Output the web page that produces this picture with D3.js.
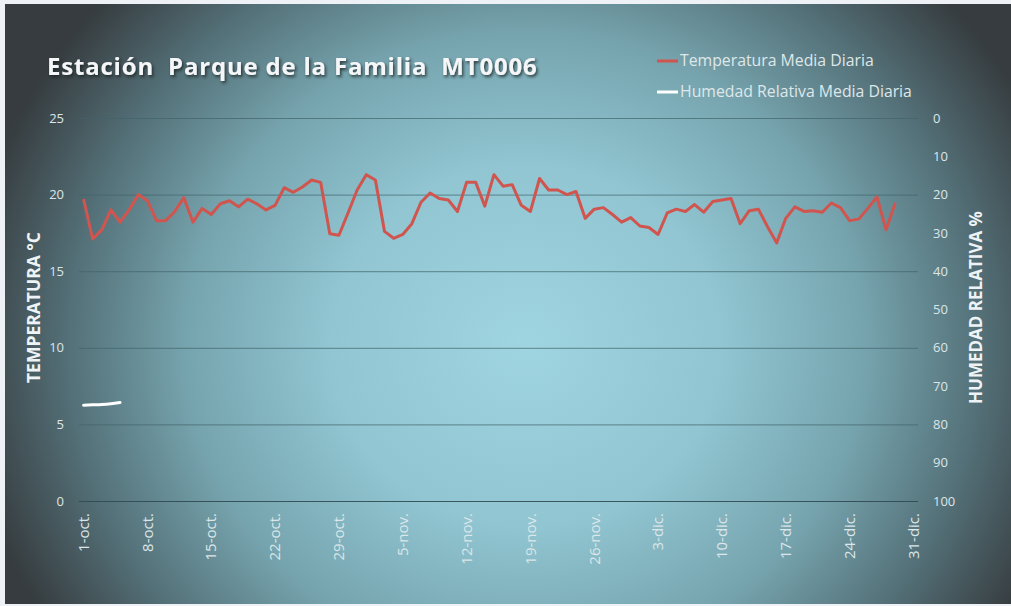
<!DOCTYPE html>
<html>
<head>
<meta charset="utf-8">
<script src="https://cdn.jsdelivr.net/npm/d3@7"></script>
<style>
	body { margin: 0; background: #eef1f5; }
	#chart { width: 1011px; height: 606px; }
</style>
</head>
<body>
<div id="chart"></div>
<script>
// datos diarios desde el 1-oct.
var startDate = new Date(2016, 9, 1);
var endDate = new Date(2016, 11, 31);

var temperatura = [
	19.7, 17.1, 17.7, 19.0, 18.2, 19.0, 20.0, 19.6, 18.3, 18.3,
	18.9, 19.8, 18.2, 19.1, 18.7, 19.4, 19.6, 19.2, 19.7, 19.4,
	19.0, 19.3, 20.45, 20.15, 20.5, 20.95, 20.8, 17.45, 17.35, 18.8,
	20.3, 21.3, 20.95, 17.6, 17.15, 17.4, 18.1, 19.5, 20.1, 19.75,
	19.65, 18.9, 20.8, 20.8, 19.25, 21.3, 20.55, 20.65, 19.3, 18.9,
	21.05, 20.3, 20.3, 20.0, 20.2, 18.45, 19.05, 19.15, 18.7, 18.2,
	18.5, 17.95, 17.85, 17.4, 18.8, 19.05, 18.9, 19.35, 18.85, 19.55,
	19.65, 19.75, 18.1, 18.95, 19.05, 17.9, 16.85, 18.45, 19.2, 18.9,
	18.95, 18.85, 19.45, 19.15, 18.3, 18.4, 19.1, 19.85, 17.7, 19.45
];

var humedad = [75.0, 74.9, 74.8, 74.6, 74.3];

var tempTicks = [0, 5, 10, 15, 20, 25];
var humTicks = [0, 10, 20, 30, 40, 50, 60, 70, 80, 90, 100];

var titulo = "Estación  Parque de la Familia  MT0006";
var serie1 = "Temperatura Media Diaria";
var serie2 = "Humedad Relativa Media Diaria";

function chart() {
	var width = 1011, height = 606;
	var margin = {top: 118, right: 93, bottom: 105, left: 79};
	var w = width - margin.left - margin.right,
		h = height - margin.top - margin.bottom;

	var es = d3.timeFormatLocale({
		dateTime: "%A, %e de %B de %Y, %X", date: "%d/%m/%Y", time: "%H:%M:%S",
		periods: ["AM", "PM"],
		days: ["domingo", "lunes", "martes", "miércoles", "jueves", "viernes", "sábado"],
		shortDays: ["dom", "lun", "mar", "mié", "jue", "vie", "sáb"],
		months: ["enero", "febrero", "marzo", "abril", "mayo", "junio", "julio", "agosto", "septiembre", "octubre", "noviembre", "diciembre"],
		shortMonths: ["ene.", "feb.", "mar.", "abr.", "may.", "jun.", "jul.", "ago.", "sept.", "oct.", "nov.", "dic."]
	});
	var fmt = es.format("%-d-%b");

	var days = d3.timeDay.range(startDate, d3.timeDay.offset(endDate, 1));

	var svg = d3.select("#chart").append("svg")
		.attr("width", width)
		.attr("height", height)
		.style("font-family", "'Open Sans', sans-serif");

	var defs = svg.append("defs");
	var grad = defs.append("radialGradient")
		.attr("id", "bg")
		.attr("gradientUnits", "userSpaceOnUse")
		.attr("cx", 525).attr("cy", 345).attr("r", 565)
		.attr("gradientTransform", "translate(525,345) scale(1,0.92) translate(-525,-345)");
	grad.append("stop").attr("offset", 0).attr("stop-color", "#9fd4e1");
	grad.append("stop").attr("offset", 0.35).attr("stop-color", "#90c5d1");
	grad.append("stop").attr("offset", 0.6).attr("stop-color", "#76a4ae");
	grad.append("stop").attr("offset", 0.8).attr("stop-color", "#55727a");
	grad.append("stop").attr("offset", 1).attr("stop-color", "#363c3f");

	var shadow = defs.append("filter").attr("id", "sombra")
		.attr("x", -0.1).attr("y", -0.3).attr("width", 1.2).attr("height", 1.6);
	shadow.append("feDropShadow")
		.attr("dx", 1.5).attr("dy", 2).attr("stdDeviation", 1.5)
		.attr("flood-color", "#1c2224").attr("flood-opacity", 0.8);

	svg.append("rect")
		.attr("x", 5).attr("y", 4)
		.attr("width", width - 5).attr("height", height - 6)
		.attr("fill", "url(#bg)");

	var xScale = d3.scaleBand()
		.domain(days)
		.range([margin.left, margin.left + w]);

	var yTemp = d3.scaleLinear()
		.domain([0, 25])
		.range([margin.top + h, margin.top]);

	var yHum = d3.scaleLinear()
		.domain([0, 100])
		.range([margin.top, margin.top + h]);

	// lineas de la grilla
	svg.append("g").selectAll("line")
		.data(tempTicks)
		.enter().append("line")
		.attr("x1", margin.left).attr("x2", margin.left + w)
		.attr("y1", function(d) { return yTemp(d) + 0.5; })
		.attr("y2", function(d) { return yTemp(d) + 0.5; })
		.attr("stroke", function(d) { return d == 0 ? "#2f4a52" : "#41626a"; })
		.attr("stroke-opacity", function(d) { return d == 0 ? 0.9 : 0.7; })
		.attr("stroke-width", 1);

	var yaxisL = d3.axisLeft(yTemp).tickValues(tempTicks).tickSize(0).tickPadding(15);
	var yaxisR = d3.axisRight(yHum).tickValues(humTicks).tickSize(0).tickPadding(15);

	var gL = svg.append("g")
		.attr("transform", "translate(" + margin.left + ",0)")
		.call(yaxisL);
	var gR = svg.append("g")
		.attr("transform", "translate(" + (margin.left + w) + ",0)")
		.call(yaxisR);
	[gL, gR].forEach(function(g) {
		g.select(".domain").remove();
		g.selectAll("text")
			.attr("fill", "#dbe6ea")
			.attr("font-size", 13)
			.attr("font-family", "'Open Sans', sans-serif");
	});

	var xaxis = d3.axisBottom(xScale)
		.tickValues(days.filter(function(d, i) { return i % 7 == 0; }))
		.tickFormat(fmt)
		.tickSize(0);

	var gX = svg.append("g")
		.attr("transform", "translate(0," + (margin.top + h) + ")")
		.call(xaxis);
	gX.select(".domain").remove();
	gX.selectAll("text")
		.attr("transform", "rotate(-90)")
		.attr("x", -12)
		.attr("y", 0)
		.attr("dy", "0.35em")
		.style("text-anchor", "end")
		.attr("fill", "#dbe6ea")
		.attr("font-size", 15)
		.attr("font-family", "'Open Sans', sans-serif");

	var lineT = d3.line()
		.x(function(d, i) { return xScale(days[i]) + xScale.bandwidth() / 2; })
		.y(function(d) { return yTemp(d); });

	var lineH = d3.line()
		.x(function(d, i) { return xScale(days[i]) + xScale.bandwidth() / 2; })
		.y(function(d) { return yHum(d); })
		.curve(d3.curveMonotoneX);

	svg.append("path")
		.datum(temperatura)
		.attr("d", lineT)
		.attr("fill", "none")
		.attr("stroke", "#d1554f")
		.attr("stroke-width", 3)
		.attr("stroke-linejoin", "round");

	svg.append("path")
		.datum(humedad)
		.attr("d", lineH)
		.attr("fill", "none")
		.attr("stroke", "#ffffff")
		.attr("stroke-width", 3)
		.attr("stroke-linecap", "round");

	// titulos
	svg.append("text")
		.attr("x", 47).attr("y", 75)
		.style("white-space", "pre")
		.attr("font-size", 24)
		.attr("font-weight", "bold")
		.attr("letter-spacing", 0.8)
		.attr("fill", "#f4f6f7")
		.attr("filter", "url(#sombra)")
		.text(titulo);

	svg.append("text")
		.attr("transform", "translate(40," + (margin.top + h / 2 - 2) + ") rotate(-90)")
		.style("text-anchor", "middle")
		.attr("font-size", 17.5)
		.attr("font-weight", "bold")
		.attr("fill", "#eef3f5")
		.text("TEMPERATURA °C");

	svg.append("text")
		.attr("transform", "translate(982," + (margin.top + h / 2 - 2) + ") rotate(-90)")
		.style("text-anchor", "middle")
		.attr("font-size", 17)
		.attr("font-weight", "bold")
		.attr("fill", "#eef3f5")
		.text("HUMEDAD RELATIVA %");

	// leyenda
	var legend = [
		{name: serie1, color: "#d1554f", y: 61},
		{name: serie2, color: "#ffffff", y: 92}
	];
	var lg = svg.append("g").selectAll("g")
		.data(legend)
		.enter().append("g");
	lg.append("line")
		.attr("x1", 657).attr("x2", 678)
		.attr("y1", function(d) { return d.y; })
		.attr("y2", function(d) { return d.y; })
		.attr("stroke", function(d) { return d.color; })
		.attr("stroke-width", 3);
	lg.append("text")
		.attr("x", 680)
		.attr("y", function(d) { return d.y + 5; })
		.attr("font-size", 15.8)
		.attr("fill", "#dfe7ea")
		.text(function(d) { return d.name; });

} //chart

chart();
</script>
</body>
</html>
